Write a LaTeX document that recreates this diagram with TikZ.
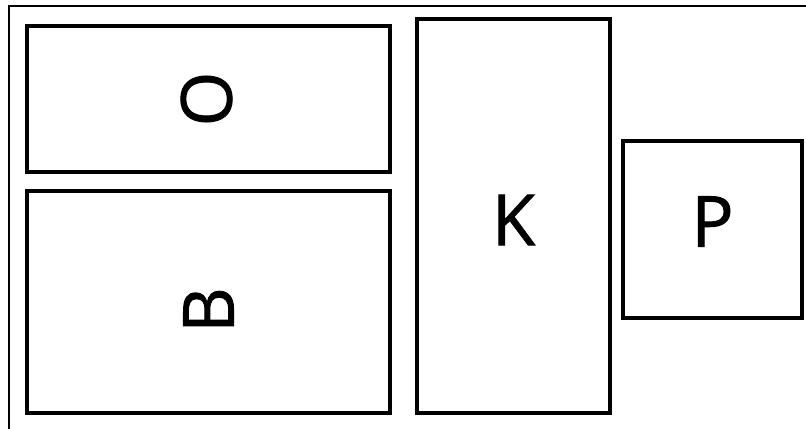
\documentclass[tikz,border=0pt]{standalone}
\usepackage{fontspec}
\setmainfont{Open Sans}
\newfontfamily\letterfont[FakeBold=1.2]{Open Sans}
\usepackage{tikz}
\usetikzlibrary{fit,calc}
\definecolor{Ink}{HTML}{000000}
\tikzset{
  frame/.style={draw=Ink,line width=0.9pt},
  block/.style={draw=Ink,line width=1.9pt,inner sep=0pt},
  letter/.style={font=\letterfont\fontsize{40}{40}\selectfont,text=Ink,inner sep=0pt}
}

\begin{document}
\begin{tikzpicture}[x=0.02cm,y=-0.02cm]
  \useasboundingbox (0,0) rectangle (806,429);
  \draw[frame] (9,429)--(9,6)--(806,6);
  % blocks
  \node[block,fit={(27,26) (390,172)}] (O) {};
  \node[block,fit={(27,191) (390,413)}] (B) {};
  \node[block,fit={(417,19) (610,413)}] (K) {};
  \node[block,fit={(623,141) (802,318)}] (P) {};
  % labels
  \node[letter,rotate=90] (tO) at ($(O.center)+(-2,0)$) {O};
  \node[letter,rotate=90] (tB) at ($(B.center)+(0,8)$) {B};
  \node[letter] (tK) at ($(K.center)+(0,4)$) {K};
  \node[letter] (tP) at ($(P.center)+(0,-8)$) {P};
\end{tikzpicture}
\end{document}
